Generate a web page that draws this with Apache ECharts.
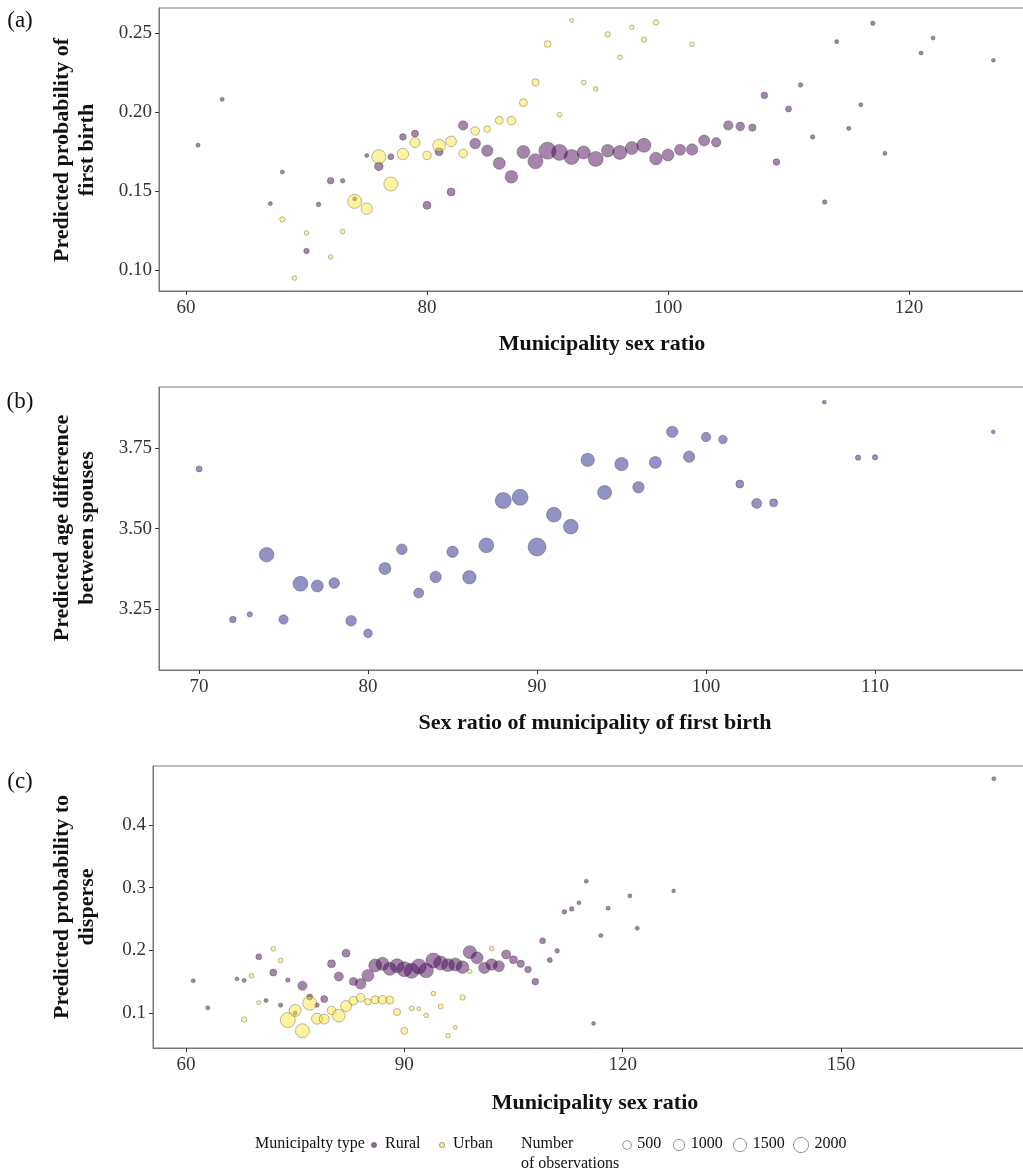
<!DOCTYPE html>
<html>
<head>
<meta charset="utf-8">
<script src="https://cdn.jsdelivr.net/npm/echarts@6/dist/echarts.min.js"></script>
<style>
  html, body { margin: 0; padding: 0; background: #fff; overflow: hidden; }
  #chart { width: 1045px; height: 1174px; }
</style>
</head>
<body>
<div id="chart"></div>
<script>
// panel (a): predicted probability of first birth
const aRuralX = [61,63,67,68,70,71,72,73,74,75,76,77,78,79,80,81,82,83,84,85,86,87,88,89,90,91,92,93,94,95,96,97,98,99,100,101,102,103,104,105,106,107,108,109,110,111,112,113,114,115,116,117,118,121,122,127];
const aRuralY = [0.179,0.208,0.142,0.162,0.112,0.1415,0.1565,0.1565,0.145,0.1724,0.1656,0.1717,0.1842,0.1863,0.1409,0.1749,0.1494,0.1915,0.180,0.1755,0.1675,0.159,0.1747,0.1688,0.1755,0.1744,0.1715,0.1744,0.1703,0.1755,0.1744,0.1772,0.1789,0.1705,0.1728,0.1761,0.1763,0.182,0.1808,0.1915,0.1909,0.1901,0.2105,0.1683,0.2019,0.2171,0.1842,0.143,0.2445,0.1896,0.2046,0.2561,0.1738,0.2373,0.2468,0.2327];
const aRuralN = [50,50,50,50,200,100,340,100,50,50,660,250,340,400,550,550,550,810,1070,1250,1400,1560,1670,2270,2950,2600,2270,1670,2270,1560,1960,1670,1960,1560,1400,1160,1250,1160,810,810,660,450,340,340,250,100,100,100,50,50,50,80,50,50,50,30];
const aUrbanX = [68,69,70,72,73,74,75,76,77,78,79,80,81,82,83,84,85,86,87,88,89,90,91,92,93,94,95,96,97,98,99,102];
const aUrbanY = [0.132,0.0949,0.1234,0.1082,0.1244,0.1434,0.1388,0.1717,0.1544,0.1734,0.1806,0.1725,0.1787,0.1814,0.1738,0.188,0.1892,0.1947,0.1945,0.2059,0.2187,0.243,0.1983,0.258,0.2187,0.2146,0.2491,0.2346,0.2536,0.2458,0.2567,0.2428];
const aUrbanN = [180,100,100,100,100,1960,1250,1960,1960,1250,940,660,1560,1070,660,660,340,550,660,550,450,340,100,30,100,100,180,100,80,180,180,100];

// panel (b): predicted age difference between spouses
const bX = [70,72,73,74,75,76,77,78,79,80,81,82,83,84,85,86,87,88,89,90,91,92,93,94,95,96,97,98,99,100,101,102,103,104,107,109,110,117];
const bY = [3.685,3.218,3.234,3.419,3.218,3.329,3.322,3.331,3.214,3.175,3.376,3.436,3.30,3.35,3.428,3.349,3.448,3.587,3.597,3.443,3.543,3.506,3.713,3.612,3.70,3.628,3.705,3.80,3.723,3.784,3.776,3.638,3.578,3.58,3.892,3.72,3.721,3.80];
const bN = [250,340,180,2140,810,2200,1400,1070,1070,660,1400,1070,940,1250,1250,1780,2200,2600,2600,3300,2200,2200,1780,1960,1780,1250,1400,1250,1250,810,660,550,940,550,30,180,180,30];

// panel (c): predicted probability to disperse
const cRuralX = [61,63,67,68,70,71,72,73,74,75,76,77,78,79,80,81,82,83,84,85,86,87,88,89,90,91,92,93,94,95,96,97,98,99,100,101,102,103,104,105,106,107,108,109,110,111,112,113,114,115,116,117,118,121,122,127,171];
const cRuralY = [0.1514,0.1084,0.1546,0.152,0.1897,0.120,0.1647,0.1127,0.1525,0.100,0.1435,0.1255,0.1127,0.1223,0.1785,0.1583,0.1955,0.1503,0.1467,0.16,0.1759,0.1785,0.1705,0.1753,0.170,0.1674,0.1742,0.1678,0.1838,0.1796,0.1764,0.1774,0.1732,0.1971,0.188,0.1721,0.1774,0.1748,0.1934,0.1849,0.1785,0.1694,0.150,0.2151,0.1844,0.1992,0.2613,0.266,0.2757,0.3102,0.0835,0.2236,0.2672,0.2868,0.2353,0.2947,0.4736];
const cRuralN = [50,50,30,50,250,50,400,80,80,50,750,250,80,400,550,750,550,550,1070,1400,1670,1670,1670,1960,2270,2270,2270,2140,2270,1960,1670,1670,1560,1670,1400,1250,1250,1160,750,550,450,340,340,250,140,100,100,100,50,50,30,50,50,50,50,30,50];
const cUrbanX = [68,69,70,72,73,74,75,76,77,78,79,80,81,82,83,84,85,86,87,88,89,90,91,92,93,94,95,96,97,98,99,102];
const cUrbanY = [0.0898,0.1594,0.1164,0.2024,0.1838,0.0888,0.1042,0.0718,0.1159,0.0909,0.0904,0.1042,0.0957,0.1111,0.1196,0.1244,0.118,0.1212,0.1212,0.1207,0.1016,0.0718,0.1073,0.1068,0.0962,0.1312,0.1105,0.0639,0.0771,0.1249,0.1663,0.2029];
const cUrbanN = [180,100,50,100,100,2270,1400,1960,1960,1160,940,660,1560,1160,660,660,340,550,660,550,400,400,140,30,100,100,140,100,50,180,100,100];

// tick labels
const aXTicks = [60, 80, 100, 120];
const aYTicks = [0.10, 0.15, 0.20, 0.25];
const bXTicks = [70, 80, 90, 100, 110];
const bYTicks = [3.25, 3.50, 3.75];
const cXTicks = [60, 90, 120, 150];
const cYTicks = [0.1, 0.2, 0.3, 0.4];
const sizeBreaks = [500, 1000, 1500, 2000];

const FONT = '"Liberation Serif", "DejaVu Serif", serif';
const RURAL = 'rgba(68,1,84,0.6)';
const URBAN = 'rgba(253,231,37,0.55)';
const BLUE = 'rgba(80,80,165,0.78)';

const sizeOf = n => 2 * Math.sqrt(3 + 0.0235 * n);
const zip = (xs, ys, ns) => xs.map((x, i) => [x, ys[i], ns[i]]);

function xAxis(idx, min, max, ticks) {
  return {
    type: 'value', gridIndex: idx, min: min, max: max,
    splitLine: { show: false },
    axisLine: { show: true, lineStyle: { color: '#777', width: 1 } },
    axisTick: { show: true, length: 4, lineStyle: { color: '#333' }, customValues: ticks },
    axisLabel: { customValues: ticks, fontFamily: FONT, fontSize: 19, color: '#333', margin: 8 }
  };
}
function yAxis(idx, min, max, ticks, digits) {
  return {
    type: 'value', gridIndex: idx, min: min, max: max,
    splitLine: { show: false },
    axisLine: { show: true, lineStyle: { color: '#777', width: 1 } },
    axisTick: { show: true, length: 4, lineStyle: { color: '#333' }, customValues: ticks },
    axisLabel: { customValues: ticks, fontFamily: FONT, fontSize: 19, color: '#333', margin: 7,
      formatter: v => v.toFixed(digits) }
  };
}
function scatter(name, idx, data, color) {
  return {
    name: name, type: 'scatter', xAxisIndex: idx, yAxisIndex: idx,
    data: data,
    symbolSize: v => sizeOf(v[2]),
    itemStyle: { color: color, borderColor: 'rgba(30,30,30,0.55)', borderWidth: 0.7 },
    emphasis: { disabled: true }
  };
}
function txt(x, y, text, font, align, rot) {
  return {
    type: 'text', x: x, y: y, rotation: rot || 0,
    style: { text: text, font: font, textAlign: align || 'center', textVerticalAlign: 'middle',
      fill: '#111', lineHeight: 25 }
  };
}

const chart = echarts.init(document.getElementById('chart'));
const titleFont = 'bold 22px ' + FONT;
const legendFont = '16px ' + FONT;

const graphics = [
  txt(20, 21, '(a)', '23px ' + FONT), txt(20, 402, '(b)', '23px ' + FONT), txt(20, 782, '(c)', '23px ' + FONT),
  txt(75, 150, 'Predicted probability of\nfirst birth', titleFont, 'center', Math.PI / 2),
  txt(75, 528, 'Predicted age difference\nbetween spouses', titleFont, 'center', Math.PI / 2),
  txt(75, 907, 'Predicted probability to\ndisperse', titleFont, 'center', Math.PI / 2),
  txt(602, 344, 'Municipality sex ratio', titleFont),
  txt(595, 723, 'Sex ratio of municipality of first birth', titleFont),
  txt(595, 1103, 'Municipality sex ratio', titleFont),
  // legend: municipality type
  txt(255, 1144, 'Municipalty type', legendFont, 'left'),
  { type: 'circle', shape: { cx: 374, cy: 1145, r: 2.6 }, style: { fill: RURAL, stroke: 'rgba(30,30,30,0.55)', lineWidth: 0.7 } },
  txt(385, 1144, 'Rural', legendFont, 'left'),
  { type: 'circle', shape: { cx: 442, cy: 1145, r: 2.6 }, style: { fill: URBAN, stroke: 'rgba(30,30,30,0.55)', lineWidth: 0.7 } },
  txt(453, 1144, 'Urban', legendFont, 'left'),
  // legend: number of observations
  { type: 'text', x: 521, y: 1134, style: { text: 'Number\nof observations', font: legendFont, textAlign: 'left',
      textVerticalAlign: 'top', fill: '#111', lineHeight: 20 } }
];
const breakX = [627, 679, 740, 801];
sizeBreaks.forEach((n, i) => {
  const r = sizeOf(n) / 2 + 0.5;
  graphics.push({ type: 'circle', shape: { cx: breakX[i], cy: 1145, r: r },
    style: { fill: '#fff', stroke: '#777', lineWidth: 0.8 } });
  graphics.push(txt(breakX[i] + r + 6, 1144, String(n), legendFont, 'left'));
});

chart.setOption({
  animation: false,
  grid: [
    { left: 159, top: 8, width: 874, height: 283, show: true, borderColor: '#777', borderWidth: 1 },
    { left: 159, top: 387, width: 874, height: 283, show: true, borderColor: '#777', borderWidth: 1 },
    { left: 153, top: 766, width: 881, height: 282, show: true, borderColor: '#777', borderWidth: 1 }
  ],
  xAxis: [
    xAxis(0, 57.76, 130.29, aXTicks),
    xAxis(1, 67.63, 119.35, bXTicks),
    xAxis(2, 55.47, 176.52, cXTicks)
  ],
  yAxis: [
    yAxis(0, 0.0867, 0.2658, aYTicks, 2),
    yAxis(1, 3.0615, 3.939, bYTicks, 2),
    yAxis(2, 0.0443, 0.4938, cYTicks, 1)
  ],
  series: [
    scatter('Rural', 0, zip(aRuralX, aRuralY, aRuralN), RURAL),
    scatter('Urban', 0, zip(aUrbanX, aUrbanY, aUrbanN), URBAN),
    scatter('All', 1, zip(bX, bY, bN), BLUE),
    scatter('Rural', 2, zip(cRuralX, cRuralY, cRuralN), RURAL),
    scatter('Urban', 2, zip(cUrbanX, cUrbanY, cUrbanN), URBAN)
  ],
  graphic: graphics
});
</script>
</body>
</html>
